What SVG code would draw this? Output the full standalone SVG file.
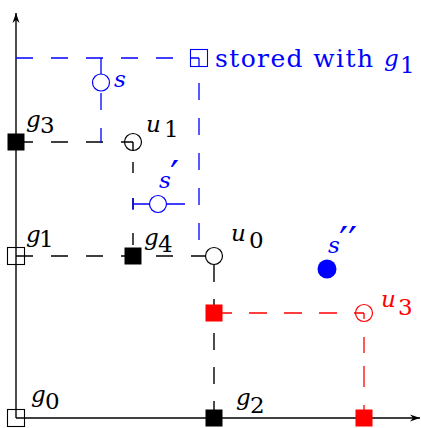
<svg xmlns="http://www.w3.org/2000/svg" width="421" height="428" viewBox="0 0 421 428">
<defs>
<marker id="arr" viewBox="-11 -5 12 10" refX="0" refY="0" markerWidth="12" markerHeight="10" markerUnits="userSpaceOnUse" orient="auto">
<path d="M0,0 L-10,-3.5 L-7,0 L-10,3.5 Z" fill="#000"/>
</marker>
<style>
.ax{stroke:#000;stroke-width:1.4;fill:none}
.k{stroke:#000;stroke-width:1.4;fill:none}
.b{stroke:#0000ff;stroke-width:1.3;fill:none}
.r{stroke:#ff0000;stroke-width:1.3;fill:none}
.d{stroke-dasharray:17 18}
.t{font-family:"DejaVu Serif","Liberation Serif",serif;font-size:23px}
.i{font-style:italic}
.p{font-size:40px;font-style:normal}
.tb{fill:#0000ff}
.tr{fill:#ff0000}
</style>
</defs>
<rect width="421" height="428" fill="#fff"/>
<g id="axes">
<path class="ax" d="M16,418 V13" marker-end="url(#arr)"/>
<path class="ax" d="M16,418 H420" marker-end="url(#arr)"/>
</g>
<g id="connectors">
<path class="k d" d="M16,142 H133"/>
<path class="k d" d="M16,256 H214"/>
<path class="k" d="M133,142 V151 M133,162 V173 M133,198 V209 M133,233 V245 M133,248 V256"/>
<path class="k" style="stroke-dasharray:17 17" d="M214,265 V418"/>
<path class="r" style="stroke-dasharray:18 17" d="M214,313 H364"/>
<path class="r" d="M364,313 V319 M364,337 V353 M364,366 V387 M364,405 V418"/>
<path class="b d" d="M16,58 H199"/>
<path class="b d" d="M101,58 V143"/>
<path class="b" d="M199,58 V66"/>
<path class="b d" d="M199,83 V240"/>
<path class="b" d="M133,204 H185 M133,198 V210"/>
</g>
<g id="g0">
<rect x="7.5" y="409.5" width="17" height="17" fill="none" stroke="#000" stroke-width="1.1"/>
<text class="t" x="31" y="402"><tspan class="i">g</tspan><tspan x="45" y="409">0</tspan></text>
</g>
<g id="g1">
<rect x="7.5" y="247.5" width="17" height="17" fill="none" stroke="#000" stroke-width="1.1"/>
<text class="t" x="26" y="242"><tspan class="i">g</tspan><tspan x="39" y="247">1</tspan></text>
</g>
<g id="g2">
<rect x="205.5" y="409.5" width="17" height="17" fill="#000"/>
<text class="t" x="236" y="405"><tspan class="i">g</tspan><tspan x="250" y="413">2</tspan></text>
</g>
<g id="g3">
<rect x="7.5" y="133.5" width="17" height="17" fill="#000"/>
<text class="t" x="26" y="127"><tspan class="i">g</tspan><tspan x="40" y="133">3</tspan></text>
</g>
<g id="g4">
<rect x="124.5" y="247.5" width="17" height="17" fill="#000"/>
<text class="t" x="144" y="245"><tspan class="i">g</tspan><tspan x="158" y="252">4</tspan></text>
</g>
<g id="u0">
<circle cx="214" cy="256" r="8.5" fill="#fff" stroke="#000" stroke-width="1.2"/>
<text class="t" x="231" y="241"><tspan class="i">u</tspan><tspan x="249" y="248">0</tspan></text>
</g>
<g id="u1">
<circle cx="133" cy="142" r="8.5" fill="none" stroke="#000" stroke-width="1.2"/>
<text class="t" x="146" y="132"><tspan class="i">u</tspan><tspan x="164" y="137">1</tspan></text>
</g>
<g id="u2">
<rect x="205.5" y="304.5" width="17" height="17" fill="#ff0000"/>
</g>
<g id="u3">
<circle cx="364" cy="313" r="8.5" fill="none" stroke="#ff0000" stroke-width="1.2"/>
<text class="t tr" x="381" y="307"><tspan class="i">u</tspan><tspan x="398" y="315">3</tspan></text>
</g>
<g id="g5">
<rect x="355.5" y="409.5" width="17" height="17" fill="#ff0000"/>
</g>
<g id="s">
<circle cx="101" cy="82.5" r="8.5" fill="#fff" stroke="#0000ff" stroke-width="1.2"/>
<text class="t tb i" x="114" y="87">s</text>
</g>
<g id="s1">
<circle cx="158" cy="204" r="8.5" fill="#fff" stroke="#0000ff" stroke-width="1.2"/>
<text class="t tb" x="159" y="188"><tspan class="i">s</tspan><tspan class="p" x="170" y="189">′</tspan></text>
</g>
<g id="s2">
<circle cx="327" cy="269" r="9.5" fill="#0000ff"/>
<text class="t tb" x="328" y="253"><tspan class="i">s</tspan><tspan class="p" x="339" y="255">′′</tspan></text>
</g>
<g id="stored">
<rect x="190.5" y="49.5" width="17" height="17" fill="none" stroke="#0000ff" stroke-width="1.1"/>
<text class="t tb" x="215" y="67" style="font-size:25px" textLength="158" lengthAdjust="spacing">stored with</text>
<text class="t tb" x="384" y="66"><tspan class="i">g</tspan><tspan x="400" y="73">1</tspan></text>
</g>
</svg>
